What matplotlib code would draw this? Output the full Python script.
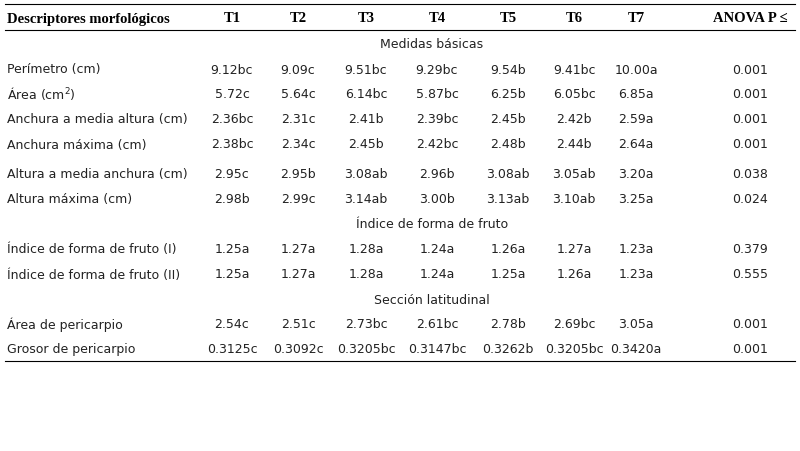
import matplotlib.pyplot as plt
from matplotlib.lines import Line2D

headers = ["Descriptores morfológicos", "T1", "T2", "T3", "T4", "T5", "T6", "T7", "ANOVA P ≤"]
sections = ["Medidas básicas", "Índice de forma de fruto", "Sección latitudinal"]
rows = [
    (0, "Perímetro (cm)", ["9.12bc", "9.09c", "9.51bc", "9.29bc", "9.54b", "9.41bc", "10.00a"], "0.001"),
    (0, "Área (cm$^2$)", ["5.72c", "5.64c", "6.14bc", "5.87bc", "6.25b", "6.05bc", "6.85a"], "0.001"),
    (0, "Anchura a media altura (cm)", ["2.36bc", "2.31c", "2.41b", "2.39bc", "2.45b", "2.42b", "2.59a"], "0.001"),
    (0, "Anchura máxima (cm)", ["2.38bc", "2.34c", "2.45b", "2.42bc", "2.48b", "2.44b", "2.64a"], "0.001"),
    (0, "Altura a media anchura (cm)", ["2.95c", "2.95b", "3.08ab", "2.96b", "3.08ab", "3.05ab", "3.20a"], "0.038"),
    (0, "Altura máxima (cm)", ["2.98b", "2.99c", "3.14ab", "3.00b", "3.13ab", "3.10ab", "3.25a"], "0.024"),
    (1, "Índice de forma de fruto (I)", ["1.25a", "1.27a", "1.28a", "1.24a", "1.26a", "1.27a", "1.23a"], "0.379"),
    (1, "Índice de forma de fruto (II)", ["1.25a", "1.27a", "1.28a", "1.24a", "1.25a", "1.26a", "1.23a"], "0.555"),
    (2, "Área de pericarpio", ["2.54c", "2.51c", "2.73bc", "2.61bc", "2.78b", "2.69bc", "3.05a"], "0.001"),
    (2, "Grosor de pericarpio", ["0.3125c", "0.3092c", "0.3205bc", "0.3147bc", "0.3262b", "0.3205bc", "0.3420a"], "0.001"),
]

W, H = 800, 452
fig = plt.figure(figsize=(8, 4.52), dpi=100)

def tx(x, y, s, **kw):
    # y is the row centre in pixels; place baseline a bit below it
    fig.text(x / W, 1 - (y + 4.5) / H, s, va="baseline", **kw)

def hline(y):
    fig.add_artist(Line2D([5 / W, 795 / W], [1 - y / H] * 2, color="black", lw=0.8))

col_x = [232, 298, 366, 437, 508, 574, 636, 750]
body = dict(fontsize=9, family="DejaVu Sans", color="#222222")
head = dict(fontsize=10.5, family="Liberation Serif", weight="bold")

hline(5); hline(31); hline(362)
tx(7, 18, headers[0], ha="left", **head)
for x, h in zip(col_x, headers[1:]):
    tx(x, 18, h, ha="center", **head)

section_y = [44, 224, 299]
row_y = [69, 94, 119, 144, 174, 199, 249, 274, 324, 349]
for s, y in zip(sections, section_y):
    tx(432, y, s, ha="center", **body)
for (sec, name, vals, p), y in zip(rows, row_y):
    tx(7, y, name, ha="left", **body)
    for x, v in zip(col_x, vals + [p]):
        tx(x, y, v, ha="center", **body)

fig.savefig("out.png", dpi=100, facecolor="white")
